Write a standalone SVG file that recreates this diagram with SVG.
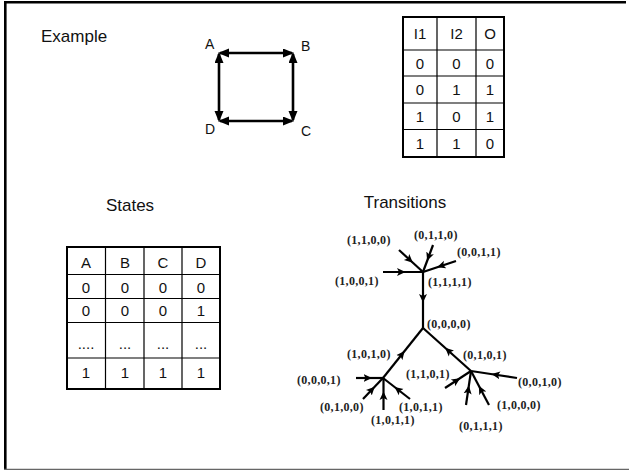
<svg xmlns="http://www.w3.org/2000/svg" width="629" height="471" viewBox="0 0 629 471">
  <defs>
    <marker id="head" markerUnits="userSpaceOnUse" markerWidth="12" markerHeight="10" refX="9" refY="4.5" orient="auto-start-reverse" viewBox="0 0 12 10">
      <path d="M0,0 L11,4.5 L0,9 z" fill="#000"/>
    </marker>
    <marker id="barb" markerUnits="userSpaceOnUse" markerWidth="12" markerHeight="10" refX="6" refY="5" orient="auto" viewBox="0 0 12 10">
      <path d="M0,1 L8.5,5 L0,9 L2,5 z" fill="#000"/>
    </marker>
    <style>
      .title { font-family: "Liberation Sans", Arial, sans-serif; font-size: 17px; fill: #111; }
      .corner { font-family: "Liberation Sans", Arial, sans-serif; font-size: 14px; fill: #111; }
      .cell { font-family: "Liberation Sans", Arial, sans-serif; font-size: 15px; fill: #111; text-anchor: middle; }
      .grid { stroke: #000; stroke-width: 1.2; fill: none; }
      .outer { stroke: #000; stroke-width: 2; fill: #fff; }
      .side { stroke: #000; stroke-width: 2.6; fill: none; marker-start: url(#head); marker-end: url(#head); }
      .edge { stroke: #000; stroke-width: 2.2; fill: none; marker-mid: url(#barb); }
      .state { font-family: "Liberation Serif", "Times New Roman", serif; font-weight: bold; font-size: 12px; letter-spacing: 0.3px; fill: #222; }
    </style>
  </defs>

  <rect width="629" height="471" fill="#fff"/>

  <!-- slide frame -->
  <g id="frame">
    <line x1="4" y1="2.3" x2="626" y2="2.3" stroke="#000" stroke-width="2.6"/>
    <line x1="5.3" y1="1" x2="5.3" y2="470" stroke="#000" stroke-width="2.6"/>
    <line x1="4" y1="469.4" x2="629" y2="469.4" stroke="#666" stroke-width="1.4"/>
  </g>

  <g id="titles">
    <text class="title" x="41" y="42">Example</text>
    <text class="title" x="130" y="211" text-anchor="middle">States</text>
    <text class="title" x="405" y="208" text-anchor="middle">Transitions</text>
  </g>

  <!-- four-node cycle A-B-C-D -->
  <g id="node-A"><text class="corner" x="205" y="49">A</text></g>
  <g id="node-B"><text class="corner" x="301" y="51">B</text></g>
  <g id="node-C"><text class="corner" x="301" y="136">C</text></g>
  <g id="node-D"><text class="corner" x="205" y="134">D</text></g>
  <g id="cycle-connectors">
    <line class="side" x1="220" y1="53" x2="292" y2="53"/>
    <line class="side" x1="219" y1="54" x2="219" y2="120"/>
    <line class="side" x1="293" y1="54" x2="293" y2="120"/>
    <line class="side" x1="220" y1="121" x2="292" y2="121"/>
  </g>

  <!-- truth table I1 I2 O -->
  <g id="truth-table">
    <rect class="outer" x="403" y="17" width="101" height="140"/>
    <path class="grid" d="M437,17 V157 M476,17 V157 M403,50 H504 M403,76 H504 M403,103 H504 M403,129.5 H504"/>
    <text class="cell" x="420" y="39">I1</text>
    <text class="cell" x="456.5" y="39">I2</text>
    <text class="cell" x="490" y="39">O</text>
    <text class="cell" x="420" y="68.5">0</text>
    <text class="cell" x="456.5" y="68.5">0</text>
    <text class="cell" x="490" y="68.5">0</text>
    <text class="cell" x="420" y="95">0</text>
    <text class="cell" x="456.5" y="95">1</text>
    <text class="cell" x="490" y="95">1</text>
    <text class="cell" x="420" y="121.5">1</text>
    <text class="cell" x="456.5" y="121.5">0</text>
    <text class="cell" x="490" y="121.5">1</text>
    <text class="cell" x="420" y="148.5">1</text>
    <text class="cell" x="456.5" y="148.5">1</text>
    <text class="cell" x="490" y="148.5">0</text>
  </g>

  <!-- state table A B C D -->
  <g id="state-table">
    <rect class="outer" x="67" y="247" width="153" height="142"/>
    <path class="grid" d="M105.5,247 V389 M144,247 V389 M182,247 V389 M67,274.5 H220 M67,298.5 H220 M67,322.5 H220 M67,358 H220"/>
    <text class="cell" x="86" y="268">A</text>
    <text class="cell" x="125" y="268">B</text>
    <text class="cell" x="163" y="268">C</text>
    <text class="cell" x="201" y="268">D</text>
    <text class="cell" x="86" y="293">0</text>
    <text class="cell" x="125" y="293">0</text>
    <text class="cell" x="163" y="293">0</text>
    <text class="cell" x="201" y="293">0</text>
    <text class="cell" x="86" y="316">0</text>
    <text class="cell" x="125" y="316">0</text>
    <text class="cell" x="163" y="316">0</text>
    <text class="cell" x="201" y="316">1</text>
    <text class="cell" x="86" y="349">....</text>
    <text class="cell" x="125" y="349">...</text>
    <text class="cell" x="163" y="349">...</text>
    <text class="cell" x="201" y="349">...</text>
    <text class="cell" x="86" y="378">1</text>
    <text class="cell" x="125" y="378">1</text>
    <text class="cell" x="163" y="378">1</text>
    <text class="cell" x="201" y="378">1</text>
  </g>

  <!-- transition tree: every edge carries a mid-arrow toward its target -->
  <g id="transition-connectors">
    <path class="edge" d="M383,272 L403,272 L423,272"/>
    <path class="edge" d="M399,250 L411,261 L423,272"/>
    <path class="edge" d="M433,245 L428,258.5 L423,272"/>
    <path class="edge" d="M456,261 L439.5,266.5 L423,272"/>
    <path class="edge" d="M423,271 L423,300 L423,329"/>
    <path class="edge" d="M383,378 L403,353 L423,328"/>
    <path class="edge" d="M471,371 L447,349.5 L423,328"/>
    <path class="edge" d="M356,378 L369.5,378 L383,378"/>
    <path class="edge" d="M363,399 L373,388.5 L383,378"/>
    <path class="edge" d="M383.5,410 L383.5,394 L383.5,378"/>
    <path class="edge" d="M410,399 L396.5,388.5 L383,378"/>
    <path class="edge" d="M517,378 L494,374.5 L471,371"/>
    <path class="edge" d="M445,388 L458,379.5 L471,371"/>
    <path class="edge" d="M466,405 L468.5,388 L471,371"/>
    <path class="edge" d="M489,405 L480,388 L471,371"/>
  </g>

  <g id="s1100"><text class="state" x="347" y="244">(1,1,0,0)</text></g>
  <g id="s0110"><text class="state" x="414" y="238.5">(0,1,1,0)</text></g>
  <g id="s0011"><text class="state" x="457" y="255.5">(0,0,1,1)</text></g>
  <g id="s1001"><text class="state" x="335" y="284.5">(1,0,0,1)</text></g>
  <g id="s1111"><text class="state" x="428" y="285.5">(1,1,1,1)</text></g>
  <g id="s0000"><text class="state" x="427" y="327.5">(0,0,0,0)</text></g>
  <g id="s1010"><text class="state" x="347" y="357.5">(1,0,1,0)</text></g>
  <g id="s0101"><text class="state" x="463" y="359">(0,1,0,1)</text></g>
  <g id="s0001"><text class="state" x="297" y="384">(0,0,0,1)</text></g>
  <g id="s1101"><text class="state" x="406" y="378">(1,1,0,1)</text></g>
  <g id="s0010"><text class="state" x="518" y="385.5">(0,0,1,0)</text></g>
  <g id="s0100"><text class="state" x="320" y="410.5">(0,1,0,0)</text></g>
  <g id="s1011a"><text class="state" x="399" y="410.5">(1,0,1,1)</text></g>
  <g id="s1011b"><text class="state" x="371" y="424">(1,0,1,1)</text></g>
  <g id="s1000"><text class="state" x="497" y="409">(1,0,0,0)</text></g>
  <g id="s0111"><text class="state" x="459" y="430">(0,1,1,1)</text></g>
</svg>
